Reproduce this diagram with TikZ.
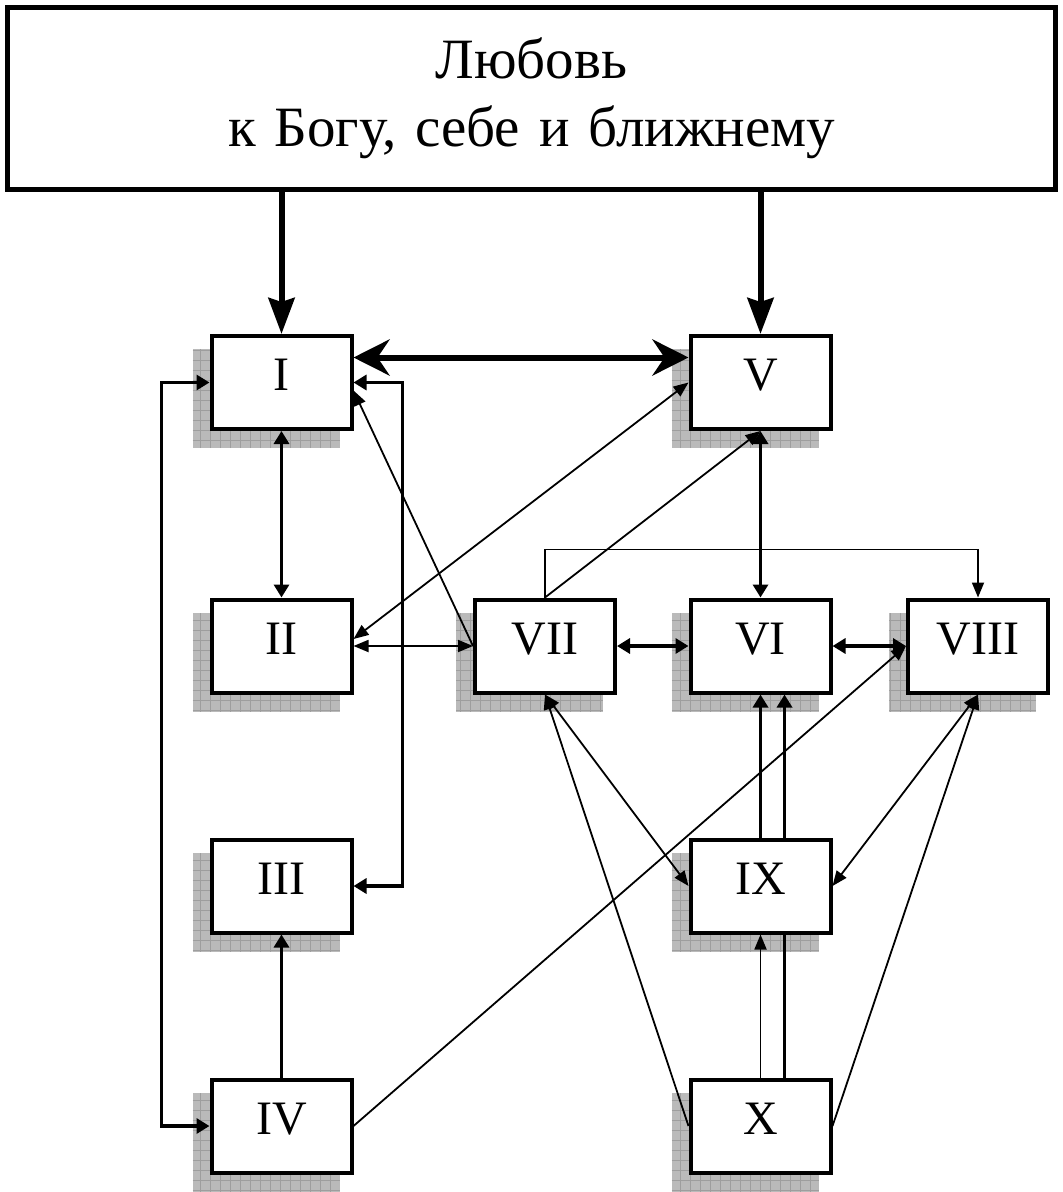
\documentclass[tikz,border=0pt]{standalone}
\usepackage{fontspec}
\setmainfont{Liberation Serif}
\usetikzlibrary{arrows.meta}
\pgfdeclarelayer{shade}
\pgfdeclarelayer{under}
\pgfsetlayers{shade,under,main}
\frenchspacing

\begin{document}
\begin{tikzpicture}[
        x=0.5pt, y=0.5pt,
        node distance=120pt,
        header/.style={rectangle, draw, line width=2.5pt, minimum width=524pt, minimum height=91pt, text width=500pt, align=center, font=\fontsize{28.5}{34}\selectfont},
        stage/.style={rectangle, draw, fill=white, line width=2pt, minimum width=70pt, minimum height=46.5pt, inner sep=0pt, text height=16pt, text depth=8pt, font=\fontsize{24}{28}\selectfont},
        shadowbox/.style={fill=black!27},
        gridline/.style={draw=black!38, line width=0.3pt, step=5pt},
        link/.style={line width=0.9pt, >={Triangle[length=7.5pt, width=6pt]}},
        bond/.style={line width=1.9pt, >={Triangle[length=6.5pt, width=7.5pt]}},
        heavy/.style={line width=3pt, >={Stealth[length=18pt, width=18pt, inset=6pt]}},
        feed/.style={line width=3pt, >={Stealth[length=18pt, width=13pt, inset=2pt]}}
    ]
        \useasboundingbox (0,0) rectangle (1063,-1192);

        % Header
        \node[header] (love) at (531.5,-98.5) {Любовь\\к Богу, себе и ближнему};

        % Boxes
        \node[stage] (I) at (281.5,-382.5) {I};
        \node[stage, right of=I, xshift=119.5pt] (V) {V};
        \node[stage, below of=I, yshift=-11.75pt] (II) {II};
        \node[stage, below of=II] (III) {III};
        \node[stage, below of=III] (IV) {IV};
        \node[stage, right of=II, xshift=11.75pt] (VII) {VII};
        \node[stage, below of=V, yshift=-11.75pt] (VI) {VI};
        \node[stage, right of=VI, xshift=-11.25pt] (VIII) {VIII};
        \node[stage, below of=VI] (IX) {IX};
        \node[stage, below of=IX] (X) {X};

        % Shadows
        \begin{pgfonlayer}{shade}
            \foreach \n in {I,II,III,IV,V,VI,VII,VIII,IX,X} {
                \fill[shadowbox] ([shift={(-17,-17)}]\n.south west) rectangle ([shift={(-14,-15)}]\n.north east);
                \draw[gridline] ([shift={(-17,-17)}]\n.south west) grid ([shift={(-14,-15)}]\n.north east);
            }
        \end{pgfonlayer}

        % Arrows from the header
        \draw[feed, ->] (I.north |- love.south) -- (I.north);
        \draw[feed, ->] (V.north |- love.south) -- (V.north);
        \draw[heavy, <->] ([yshift=12.5pt]I.east) -- ([yshift=12.5pt]V.west);

        % Left column
        \draw[bond, <->] (I.south) -- (II.north);
        \draw[bond, <->] (I.west) -- ++(-48,0) |- (IV.west);
        \draw[bond, <->] (I.east) -- ++(49,0) |- (III.east);
        \draw[bond, ->] (IV.north) -- (III.south);

        % Middle row
        \draw[link, ->] (VII.west) -- ([yshift=-4pt]I.east);
        \draw[link, <->] (II.east) -- (VII.west);
        \draw[link, <->] ([yshift=3.5pt]II.east) -- (V.west);
        \draw[link, ->] (VII.north) -- (V.south);
        \draw[link, ->] (VII.north) -- ++(0,48) -| (VIII.north);
        \draw[bond, <->] (V.south) -- (VI.north);
        \draw[bond, <->] (VII.east) -- (VI.west);
        \draw[bond, <->] (VI.east) -- (VIII.west);
        \draw[link, ->] (IV.east) -- (VIII.west);

        % Lower right
        \draw[bond, ->] (IX.north) -- (VI.south);
        \begin{pgfonlayer}{under}
            \draw[bond, ->] ([xshift=12pt]X.north) -- ([xshift=12pt]VI.south);
        \end{pgfonlayer}
        \draw[link, ->] (X.north) -- (IX.south);
        \draw[link, <->] (VII.south) -- (IX.west);
        \draw[link, ->] (X.west) -- (VII.south);
        \draw[link, <->] (VIII.south) -- (IX.east);
        \draw[link, ->] (X.east) -- (VIII.south);
    \end{tikzpicture}
\end{document}
